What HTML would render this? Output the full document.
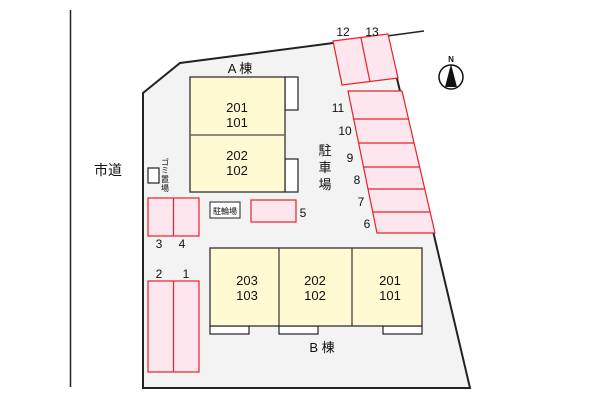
<!DOCTYPE html>
<html><head><meta charset="utf-8"><style>
html,body{margin:0;padding:0;background:#fff;}
svg{display:block;}
text{font-family:"Liberation Sans","Noto Sans CJK JP",sans-serif;fill:#111;}
</style></head><body>
<svg width="600" height="400" viewBox="0 0 600 400" xmlns="http://www.w3.org/2000/svg">
<line x1="70.5" y1="10" x2="70.5" y2="387" stroke="#222" stroke-width="1.5"/>
<polygon points="143,93 180,63 387,36 470,388 143,388" fill="#f3f3f3" stroke="#222" stroke-width="2"/>
<line x1="387" y1="36" x2="424" y2="31" stroke="#222" stroke-width="1.5"/>
<text x="108" y="175" font-size="14" text-anchor="middle">市道</text>
<circle cx="451" cy="77" r="12" fill="#fff" stroke="#111" stroke-width="1.5"/>
<polygon points="451,64 445,87 457,87" fill="#111"/>
<text x="451" y="62" font-size="8" text-anchor="middle" font-weight="bold">N</text>
<g fill="#fde6ee" stroke="#e8202a" stroke-width="1.2">
<polygon points="333,41 388,34 398,78 342,85"/>
<line x1="361" y1="38" x2="370" y2="82"/>
<polygon points="348,91 402,91 435,233 377,233"/>
<line x1="354" y1="119" x2="409" y2="119"/>
<line x1="359" y1="143" x2="414" y2="143"/>
<line x1="364" y1="167" x2="420" y2="167"/>
<line x1="368" y1="189" x2="425" y2="189"/>
<line x1="373" y1="212" x2="430" y2="212"/>
<rect x="148" y="198" width="51" height="38"/>
<line x1="173.5" y1="198" x2="173.5" y2="236"/>
<rect x="251" y="200" width="45" height="22"/>
<rect x="148" y="281" width="51" height="91"/>
<line x1="173.5" y1="281" x2="173.5" y2="372"/>
</g>
<g font-size="12" text-anchor="middle">
<text x="343" y="36">12</text><text x="372" y="36">13</text>
<text x="338" y="112">11</text><text x="345" y="135">10</text>
<text x="350" y="162">9</text><text x="357" y="184">8</text>
<text x="361" y="206">7</text><text x="367" y="228">6</text>
<text x="303" y="217">5</text>
<text x="159" y="248">3</text><text x="182" y="248">4</text>
<text x="159" y="278">2</text><text x="186" y="278">1</text>
</g>
<rect x="285" y="77" width="13" height="33" fill="#fff" stroke="#222" stroke-width="1.2"/>
<rect x="285" y="159" width="13" height="33" fill="#fff" stroke="#222" stroke-width="1.2"/>
<rect x="190" y="77" width="95" height="115" fill="#fffad2" stroke="#222" stroke-width="1.2"/>
<line x1="190" y1="135" x2="285" y2="135" stroke="#666" stroke-width="1.5"/>
<g font-size="13" text-anchor="middle">
<text x="237" y="112">201</text><text x="237" y="127">101</text>
<text x="237" y="160">202</text><text x="237" y="175">102</text>
<text x="240" y="73">A 棟</text>
<text x="325" y="155">駐</text><text x="325" y="172">車</text><text x="325" y="189">場</text>
</g>
<rect x="148" y="168" width="11" height="15" fill="#fff" stroke="#222" stroke-width="1.2"/>
<g font-size="8" text-anchor="middle">
<text x="165" y="165">ゴ</text><text x="165" y="173">ミ</text><text x="165" y="182">置</text><text x="165" y="191">場</text>
</g>
<rect x="210" y="202" width="30" height="16" fill="#fff" stroke="#222" stroke-width="1"/>
<text x="225" y="214" font-size="8" text-anchor="middle">駐輪場</text>
<g fill="#fff" stroke="#222" stroke-width="1.2">
<rect x="210" y="326" width="39" height="8"/>
<rect x="279" y="326" width="39" height="8"/>
<rect x="383" y="326" width="39" height="8"/>
</g>
<rect x="210" y="248" width="212" height="78" fill="#fffad2" stroke="#222" stroke-width="1.2"/>
<line x1="279" y1="248" x2="279" y2="326" stroke="#333" stroke-width="1.2"/>
<line x1="352" y1="248" x2="352" y2="326" stroke="#333" stroke-width="1.2"/>
<g font-size="13" text-anchor="middle">
<text x="247" y="285">203</text><text x="247" y="300">103</text>
<text x="315" y="285">202</text><text x="315" y="300">102</text>
<text x="390" y="285">201</text><text x="390" y="300">101</text>
<text x="322" y="352">B 棟</text>
</g>
</svg>
</body></html>
